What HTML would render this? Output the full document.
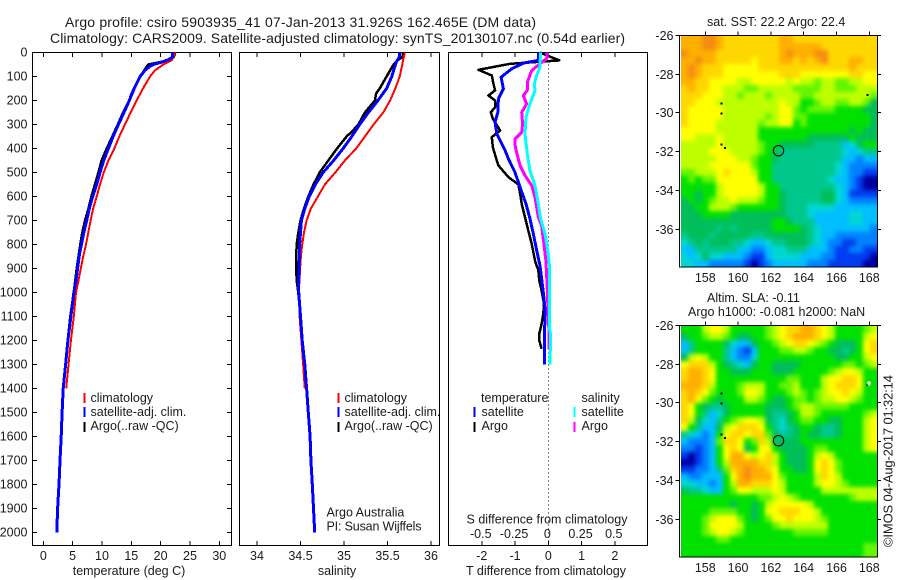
<!DOCTYPE html>
<html lang="en">
<head>
<meta charset="utf-8">
<title>Argo profile csiro 5903935_41</title>
<style>
html,body{margin:0;padding:0;background:#fff;}
svg{display:block;font-family:"Liberation Sans",sans-serif;fill:#000;}
text{font-size:12.5px;fill:#1a1a1a;}
.ttl{font-size:14px;}
</style>
</head>
<body>
<svg id="figure" xmlns="http://www.w3.org/2000/svg" width="900" height="580" viewBox="0 0 900 580">
  <defs>
    <filter id="mapSmooth" x="-5%" y="-5%" width="110%" height="110%" color-interpolation-filters="sRGB">
      <feGaussianBlur stdDeviation="2.2"/>
    </filter>
    <clipPath id="clipSst"><rect x="681" y="36" width="196" height="231"/></clipPath>
    <clipPath id="clipSla"><rect x="681" y="326" width="196" height="231"/></clipPath>
  </defs>
  <rect x="0" y="0" width="900" height="580" fill="#fff"/>
  <text class="ttl" x="65" y="27" textLength="471">Argo profile: csiro 5903935_41 07-Jan-2013 31.926S 162.465E (DM data)</text>
  <text class="ttl" x="50" y="43" textLength="575">Climatology: CARS2009. Satellite-adjusted climatology: synTS_20130107.nc (0.54d earlier)</text>
  <text x="129" y="575" text-anchor="middle">temperature (deg C)</text>
  <text x="337" y="575" text-anchor="middle">salinity</text>
  <text x="546" y="575" text-anchor="middle">T difference from climatology</text>
  <text x="547" y="523.5" text-anchor="middle">S difference from climatology</text>
  <text x="326.5" y="516.5">Argo Australia</text>
  <text x="326.5" y="530.5" textLength="95">PI: Susan Wijffels</text>
  <text x="707" y="26">sat. SST: 22.2  Argo: 22.4</text>
  <text x="707" y="302">Altim. SLA: -0.11</text>
  <text x="688" y="316">Argo h1000: -0.081 h2000: NaN</text>
  <text transform="translate(892.5,547) rotate(-90)" style="font-size:13px" textLength="172">©IMOS 04-Aug-2017 01:32:14</text>
  <g id="layer"></g>
</svg>
<script>
// ---------- axis tick labels ----------
const depthTicks = [0,100,200,300,400,500,600,700,800,900,1000,1100,1200,1300,1400,1500,1600,1700,1800,1900,2000];
const tempTicks = [0,5,10,15,20,25,30];
const salTicks = [34,34.5,35,35.5,36];
const tDiffTicks = [-2,-1,0,1,2];
const sDiffTicks = [-0.5,-0.25,0,0.25,0.5];
const latTicks = [-26,-28,-30,-32,-34,-36];
const lonTicks = [158,160,162,164,166,168];

// ---------- temperature profiles ----------
const tempClimDepth = [0,32,50,75,100,150,200,250,300,350,400,450,500,550,600,650,700,750,800,850,900,950,1000,1100,1200,1300,1400];
const tempClim = [22.56,21.9,20.45,19.0,18.2,17.0,15.9,14.9,13.9,12.95,12.1,11.1,10.3,9.66,9.1,8.5,8.07,7.67,7.27,6.8,6.4,6.0,5.57,5.2,4.7,4.3,3.9];
const tempSatDepth = [0,20,30,40,50,60,75,100,150,200,250,300,350,400,450,500,550,600,650,700,750,800,850,900,950,1000,1100,1200,1300,1400,1500,1600,1700,1800,1900,2000];
const tempSat = [22.05,22.0,21.3,20.2,18.75,18.05,17.3,16.5,15.5,14.66,13.75,12.8,11.9,11.1,10.3,9.66,9.1,8.4,7.84,7.4,6.9,6.5,6.1,5.85,5.57,5.2,4.7,4.2,3.8,3.4,3.2,3.05,2.85,2.67,2.44,2.3];
const tempArgoDepth = [0,10,20,30,40,50,60,75,100,150,180,200,250,300,350,400,450,500,550,600,650,700,750,800,850,900,950,1000,1100,1235];
const tempArgo = [22.4,22.4,22.2,21.6,19.9,17.9,17.6,17.2,16.5,15.45,14.9,14.66,13.6,12.7,11.76,10.8,9.94,9.4,8.8,8.2,7.7,7.1,6.65,6.3,6.0,5.7,5.45,5.2,4.6,4.0];

// ---------- salinity profiles ----------
const salClimDepth = [0,30,50,75,100,150,200,250,300,350,400,450,500,550,600,650,700,750,800,850,900,1000,1100,1200,1300,1400];
const salClim = [35.70,35.68,35.67,35.655,35.64,35.59,35.53,35.45,35.34,35.24,35.14,35.01,34.90,34.78,34.70,34.62,34.57,34.54,34.52,34.505,34.495,34.48,34.49,34.51,34.53,34.55];
const salSatDepth = [0,20,40,75,100,150,200,250,300,350,400,450,500,550,600,650,700,750,800,850,900,950,1000,1100,1200,1300,1400,1500,1600,1700,1800,1900,2000];
const salSat = [35.64,35.635,35.6,35.57,35.55,35.49,35.39,35.28,35.18,35.09,34.99,34.88,34.76,34.67,34.60,34.55,34.51,34.50,34.49,34.487,34.483,34.479,34.479,34.5,34.52,34.55,34.57,34.59,34.61,34.62,34.636,34.65,34.663];
const salArgoDepth = [0,20,30,50,75,100,150,170,200,250,300,330,350,400,450,500,550,600,650,700,750,800,850,900,950,1000,1100,1235];
const salArgo = [35.68,35.67,35.625,35.57,35.53,35.49,35.41,35.37,35.355,35.24,35.165,35.09,35.03,34.92,34.82,34.72,34.65,34.59,34.54,34.50,34.475,34.456,34.45,34.45,34.456,34.475,34.5,34.53];

// ---------- difference profiles ----------
const tDiffArgoDepth = [0,33,47,72,96,130,158,179,200,228,249,276,290,325,353,394,450,471,519,550,603,631,686,742,797,867,908,950,992,1047,1089,1131,1172,1200,1235];
const tDiffArgo = [-0.25,0.33,-1.15,-2.1,-1.7,-1.65,-1.6,-1.8,-1.6,-1.6,-1.73,-1.67,-1.6,-1.45,-1.7,-1.67,-1.55,-1.5,-1.2,-0.9,-0.83,-0.8,-0.7,-0.6,-0.5,-0.4,-0.3,-0.27,-0.2,-0.13,-0.15,-0.2,-0.27,-0.27,-0.2];
const tDiffSatDepth = [0,33,44,68,103,151,193,249,290,339,408,443,499,561,631,693,755,825,888,999,1068,1117,1172,1300];
const tDiffSat = [-0.3,-0.3,-0.75,-1.1,-1.42,-1.35,-1.5,-1.52,-1.6,-1.55,-1.3,-1.2,-1.0,-0.85,-0.67,-0.55,-0.45,-0.35,-0.25,-0.15,-0.1,-0.1,-0.12,-0.12];
const sDiffArgoDepth = [0,26,36,75,124,158,179,214,249,297,332,360,394,471,512,554,603,686,721,797,867,978,1103,1165,1235];
const sDiffArgo = [-0.005,-0.013,-0.038,-0.125,-0.158,-0.158,-0.188,-0.163,-0.2,-0.193,-0.2,-0.25,-0.248,-0.213,-0.175,-0.125,-0.1,-0.075,-0.05,-0.033,-0.018,-0.008,0,0.005,0.005];
const sDiffSatDepth = [0,61,96,130,158,214,269,339,422,492,554,631,693,755,839,888,1151,1172,1300];
const sDiffSat = [-0.058,-0.063,-0.088,-0.105,-0.1,-0.138,-0.168,-0.175,-0.158,-0.138,-0.1,-0.075,-0.058,-0.025,0,0.008,0.008,0.018,0.012];

// ---------- map grids: colour-scale level per cell, north row first, west column first ----------
const sstGrid = [
[12,12,12,13,13,12,11,11,11,11,11,11,11,11,12,12,11,11,11,11,11,11,11,11,11,11,11,11],
[12,12,12,13,13,12,11,11,11,11,11,11,11,11,12,12,12,12,12,12,11,11,11,11,11,11,11,11],
[13,12,12,12,12,11,11,11,11,11,11,11,11,11,12,13,12,12,12,13,13,11,11,11,11,11,11,11],
[12,12,13,12,12,11,11,11,11,11,10,11,11,11,12,12,11,12,11,12,13,11,11,11,12,12,11,11],
[12,13,12,11,11,11,10,10,10,10,10,11,11,11,11,11,11,11,11,11,11,11,11,11,12,11,11,11],
[12,13,12,11,11,11,10,10,10,10,10,10,10,10,11,11,11,10,10,10,10,10,10,10,11,11,10,10],
[12,12,11,11,10,10,10,10,9,9,10,10,10,10,10,9,10,9,9,8,9,9,8,8,9,9,10,10],
[11,12,11,11,10,10,9,9,9,8,8,9,9,9,9,9,8,8,8,8,9,9,8,8,8,9,9,9],
[11,11,11,10,10,10,9,9,8,9,9,9,8,9,9,9,9,8,8,9,9,9,9,9,9,9,9,8],
[11,11,10,10,10,9,9,9,9,9,9,9,9,9,10,9,9,7,7,8,9,9,8,8,9,9,8,6],
[11,10,10,10,10,10,9,9,9,9,9,9,9,9,10,10,8,7,8,8,8,8,7,7,7,7,6,6],
[11,10,10,10,10,10,9,9,9,9,9,9,8,9,10,10,8,8,7,7,7,7,7,7,7,7,7,6],
[11,10,10,10,10,9,9,9,9,9,9,8,9,9,10,10,7,8,7,7,7,7,7,7,7,7,7,6],
[10,10,10,10,10,9,9,9,9,9,9,7,7,7,7,7,7,7,7,7,7,7,7,7,6,7,6,6],
[10,10,9,9,9,10,9,9,9,9,9,7,7,7,7,7,7,7,6,6,6,6,6,6,7,6,6,6],
[9,9,9,9,9,10,9,9,9,9,9,8,7,7,6,6,6,6,6,5,5,5,5,3,4,6,7,7],
[9,9,9,9,10,10,10,9,9,9,9,8,7,6,5,5,5,5,5,5,5,5,5,4,3,4,5,5],
[9,9,9,9,9,10,10,10,9,9,8,7,7,6,5,5,5,5,5,5,5,5,5,3,3,2,3,3],
[9,9,9,9,10,10,10,10,10,10,8,7,7,5,5,5,5,5,5,5,5,5,4,3,2,2,2,2],
[8,8,9,9,9,10,11,10,10,10,9,7,7,5,5,5,5,5,5,5,5,5,4,3,2,2,1,1],
[7,8,7,8,8,10,10,10,10,10,10,7,7,5,5,5,5,5,5,5,5,4,3,3,2,1,0,0],
[7,7,7,7,7,9,10,10,10,10,10,9,7,7,5,5,5,5,5,5,5,5,4,3,2,1,0,0],
[7,7,6,7,7,9,10,10,10,10,10,9,7,7,6,5,5,5,5,5,6,6,4,3,1,1,1,1],
[6,7,6,7,8,9,9,10,9,9,9,8,7,7,6,5,5,5,5,5,6,6,4,3,2,2,2,2],
[6,6,7,7,9,9,9,8,7,7,7,7,7,7,6,5,5,5,4,4,4,4,3,3,3,3,3,3],
[6,6,6,7,7,7,7,6,6,6,6,6,6,6,6,5,5,5,4,3,3,3,3,3,4,4,3,3],
[6,6,6,6,6,6,6,6,6,6,6,6,6,7,7,6,5,5,5,3,3,3,3,3,4,4,3,3],
[6,6,6,6,6,5,6,5,6,6,6,6,6,7,7,7,7,6,5,4,3,3,3,3,3,3,3,2],
[5,6,6,6,5,6,6,6,6,6,5,5,6,6,6,6,6,6,5,4,3,3,2,2,2,2,2,2],
[4,5,6,5,6,6,6,5,5,4,3,3,4,5,5,6,6,6,5,4,3,2,2,1,1,2,2,2],
[3,3,5,5,5,5,5,5,3,3,2,2,3,4,4,5,5,5,3,3,3,2,1,1,2,2,1,1],
[4,3,4,6,4,4,3,3,3,2,1,1,3,4,4,4,4,3,3,3,2,2,1,1,1,1,1,0],
[4,4,3,3,2,2,2,2,2,1,0,1,2,3,3,3,3,3,2,2,2,1,1,1,1,1,0,0]
];
const slaGrid = [
[7,7,7,9,10,10,9,7,7,7,7,7,8,9,10,11,11,12,12,11,10,9,7,7,7,7,8,9],
[6,7,7,8,9,9,8,7,6,6,7,7,8,9,10,11,12,12,12,11,10,9,7,7,7,7,9,10],
[3,5,7,7,7,7,6,4,3,3,6,7,7,8,9,10,11,11,10,9,8,7,6,6,6,7,10,11],
[3,5,7,7,7,7,5,3,2,1,3,7,7,7,8,8,9,9,8,7,7,6,6,5,6,7,10,11],
[6,9,10,9,7,7,5,3,2,2,4,7,7,7,7,7,7,7,7,7,7,7,6,6,7,7,9,10],
[10,11,11,11,9,7,6,5,4,3,6,7,7,6,6,6,6,7,7,7,7,7,7,8,8,7,8,9],
[11,12,12,11,10,7,7,6,6,6,7,7,7,6,6,6,7,7,7,7,7,8,9,10,10,9,7,7],
[11,12,12,11,10,7,7,7,7,7,7,7,7,7,7,8,8,7,7,7,9,10,10,11,11,10,7,7],
[12,12,12,11,9,7,7,7,8,9,9,9,7,7,8,8,9,7,7,7,9,10,11,11,11,10,7,7],
[11,12,11,10,8,7,7,7,8,10,10,9,7,7,7,8,9,8,7,8,9,10,10,11,10,9,7,7],
[11,12,10,8,7,6,7,7,7,9,9,8,7,6,6,7,8,8,7,8,9,9,10,10,9,8,7,7],
[11,10,7,6,5,5,6,7,7,7,7,7,6,6,6,7,8,9,9,8,8,8,8,8,7,7,7,7],
[11,10,7,5,3,4,6,7,7,7,7,7,6,5,5,6,7,9,9,8,7,7,7,7,7,7,8,9],
[11,9,6,4,3,5,7,8,9,10,10,9,6,5,4,6,7,8,8,7,7,6,6,7,7,7,9,10],
[10,7,5,3,3,6,9,10,11,11,11,10,7,5,4,5,6,7,7,6,5,5,6,7,7,7,9,10],
[5,4,3,2,3,7,10,11,11,10,11,11,8,6,5,5,6,7,6,6,5,5,6,7,7,7,9,10],
[3,2,2,2,3,8,11,11,10,7,8,11,9,6,6,6,6,7,7,7,7,7,7,7,7,7,9,10],
[2,2,1,2,3,7,10,11,10,6,7,10,10,7,6,6,6,6,7,8,8,7,7,7,7,7,9,10],
[1,0,1,2,3,7,10,12,12,10,9,10,11,9,7,6,6,6,7,9,10,9,7,7,7,7,7,7],
[0,0,1,2,3,7,9,12,12,12,12,11,11,9,7,6,6,6,7,10,11,10,8,7,7,7,7,7],
[1,1,2,2,3,5,8,11,12,13,12,12,11,10,7,7,6,6,7,10,11,10,8,7,7,7,7,7],
[3,2,2,3,3,3,7,10,12,13,12,12,12,10,8,7,7,7,7,9,11,10,9,7,7,7,7,7],
[4,4,3,3,2,3,7,9,12,12,11,11,11,10,9,7,7,7,7,9,10,10,9,8,7,7,7,7],
[6,5,5,4,3,3,7,8,10,10,9,9,9,10,9,7,7,7,7,7,9,9,9,9,9,9,9,9],
[7,7,7,7,7,7,7,7,7,7,7,8,8,9,10,9,8,7,7,7,7,7,7,7,8,9,9,9],
[7,7,7,7,7,7,7,6,7,7,6,7,9,10,10,10,10,10,9,7,7,7,7,7,7,7,7,7],
[7,7,7,7,8,8,8,8,7,7,6,7,10,10,11,11,11,10,10,9,7,7,7,7,7,7,7,7],
[7,7,7,8,9,10,10,10,8,7,6,7,8,10,10,11,10,10,10,9,8,7,7,7,7,7,7,7],
[7,7,7,8,10,10,10,10,9,7,7,7,7,8,9,9,9,9,9,9,9,7,7,7,7,7,7,7],
[7,7,7,8,9,10,10,9,8,7,7,7,7,7,7,7,8,8,8,8,8,7,7,7,7,7,7,7],
[7,7,7,7,7,8,8,7,7,7,7,7,7,7,7,7,7,7,7,7,7,7,7,7,7,7,7,7],
[7,7,7,7,7,7,7,7,7,7,7,7,7,7,7,7,7,7,7,7,7,7,7,7,7,7,8,8],
[7,7,7,7,7,7,7,7,7,7,7,7,7,7,7,7,7,7,7,7,7,7,7,7,7,7,8,8]
];
const profileLon = [162.465];
const profileLat = [-31.926];
const speckLon = [159,159,159,159.2,167.9];
const speckLat = [-29.5,-30,-31.6,-31.8,-29.05];

// ---------- axis functions ----------
const NS = 'http://www.w3.org/2000/svg';
const layer = document.getElementById('layer');
const PLOT_TOP = 52.5, PLOT_BOTTOM = 545.5;
function yDepth(d){ return 52.5 + 0.24 * d; }
function xTemp(v){ return 43.3 + 5.867 * v; }
function xSal(v){ return 257 + 87 * (v - 34); }
function xTDiff(v){ return 548.3 + 33.25 * v; }
function xSDiff(v){ return 548.3 + 133 * v; }
function xLon(v){ return 705.3 + 16.4 * (v - 158); }
function yLat(mapTop, v){ return mapTop + 19.35 * (-26 - v); }

function node(tag, attrs){
  const el = document.createElementNS(NS, tag);
  for (const k in attrs) el.setAttribute(k, attrs[k]);
  layer.appendChild(el);
  return el;
}
function box(x0, x1, y0, y1, name){
  const el = node('rect', {x:x0, y:y0, width:x1-x0, height:y1-y0, fill:'none', stroke:'#000', 'stroke-width':1, 'shape-rendering':'crispEdges'});
  
  
}
function tick(x1, y1, x2, y2, name){
  const el = node('line', {x1:x1, y1:y1, x2:x2, y2:y2, stroke:'#000', 'stroke-width':1, 'shape-rendering':'crispEdges'});
  
  
}
function label(x, y, str, anchor, name){
  const el = node('text', {x:x, y:y, 'text-anchor':anchor});
  el.textContent = str;
  
  
}
function profile(depths, values, xFn, color, width, name){
  const pts = depths.map((d, i) => xFn(values[i]).toFixed(1) + ',' + yDepth(d).toFixed(1)).join(' ');
  const el = node('polyline', {points:pts, fill:'none', stroke:color, 'stroke-width':width, 'stroke-linejoin':'round', 'shape-rendering':'crispEdges'});
  
  
}
function swatch(x, y, color, name){
  const el = node('rect', {x:x, y:y, width:2, height:10, fill:color, 'shape-rendering':'crispEdges'});
  
  
}
function levelColor(level){
  const colors = ['#0000a0','#003cf0','#0082ff','#00beff','#00d7d2','#00c88c','#00be5a','#00e100','#64f500','#beff00','#ffff00','#ffd700','#ffaf00','#f58c14'];
  return colors[level];
}

// ---------- profile panels ----------
box(32.5, 231.5, PLOT_TOP, PLOT_BOTTOM, 'temperature-panel-frame');
box(239.5, 439.5, PLOT_TOP, PLOT_BOTTOM, 'salinity-panel-frame');
box(448.5, 647.5, PLOT_TOP, PLOT_BOTTOM, 'difference-panel-frame');

depthTicks.forEach(d => {
  tick(32.5, yDepth(d), 37, yDepth(d), 'depth-tick-left');
  tick(227, yDepth(d), 231.5, yDepth(d), 'depth-tick-right');
  label(27.5, yDepth(d) + 4, String(d), 'end', 'depth-tick-label');
});
tempTicks.forEach(v => {
  tick(xTemp(v), PLOT_TOP, xTemp(v), 57, 'temperature-tick-top');
  tick(xTemp(v), 541, xTemp(v), PLOT_BOTTOM, 'temperature-tick-bottom');
  label(xTemp(v), 560, String(v), 'middle', 'temperature-tick-label');
});
salTicks.forEach(v => {
  tick(xSal(v), PLOT_TOP, xSal(v), 57, 'salinity-tick-top');
  tick(xSal(v), 541, xSal(v), PLOT_BOTTOM, 'salinity-tick-bottom');
  label(xSal(v), 560, String(v), 'middle', 'salinity-tick-label');
});
tDiffTicks.forEach(v => {
  tick(xTDiff(v), 541, xTDiff(v), PLOT_BOTTOM, 't-difference-tick');
  label(xTDiff(v), 560, String(v), 'middle', 't-difference-tick-label');
});
sDiffTicks.forEach(v => {
  tick(xSDiff(v), PLOT_TOP, xSDiff(v), 57, 's-difference-tick');
  label(xSDiff(v) - 1, 538, String(v), 'middle', 's-difference-tick-label');
});
const zeroLine = node('line', {x1:xTDiff(0), y1:PLOT_TOP, x2:xTDiff(0), y2:PLOT_BOTTOM, stroke:'#000', 'stroke-width':1, 'stroke-dasharray':'1 3', 'shape-rendering':'crispEdges'});



profile(tempArgoDepth, tempArgo, xTemp, '#000', 2.5, 'temperature-argo-line');
profile(tempClimDepth, tempClim, xTemp, '#ff0000', 2, 'temperature-climatology-line');
profile(tempSatDepth, tempSat, xTemp, '#0000ff', 3, 'temperature-satellite-line');
profile(salArgoDepth, salArgo, xSal, '#000', 2.5, 'salinity-argo-line');
profile(salClimDepth, salClim, xSal, '#ff0000', 2, 'salinity-climatology-line');
profile(salSatDepth, salSat, xSal, '#0000ff', 3, 'salinity-satellite-line');
profile(tDiffArgoDepth, tDiffArgo, xTDiff, '#000', 2.5, 't-difference-argo-line');
profile(tDiffSatDepth, tDiffSat, xTDiff, '#0000ff', 3, 't-difference-satellite-line');
profile(sDiffArgoDepth, sDiffArgo, xSDiff, '#ff00ff', 3, 's-difference-argo-line');
profile(sDiffSatDepth, sDiffSat, xSDiff, '#00ffff', 3, 's-difference-satellite-line');

// ---------- legends ----------
swatch(83.5, 393, '#ff0000', 'legend-swatch-climatology');
swatch(83.5, 407, '#0000ff', 'legend-swatch-satellite');
swatch(83.5, 422, '#000', 'legend-swatch-argo');
label(90.5, 402, 'climatology', 'start', 'legend-label-climatology');
label(90.5, 416, 'satellite-adj. clim.', 'start', 'legend-label-satellite');
label(90.5, 430, 'Argo(..raw -QC)', 'start', 'legend-label-argo');
swatch(337.5, 393, '#ff0000', 'legend-swatch-climatology');
swatch(337.5, 407, '#0000ff', 'legend-swatch-satellite');
swatch(337.5, 422, '#000', 'legend-swatch-argo');
label(344.5, 402, 'climatology', 'start', 'legend-label-climatology');
label(344.5, 416, 'satellite-adj. clim.', 'start', 'legend-label-satellite');
label(344.5, 430, 'Argo(..raw -QC)', 'start', 'legend-label-argo');
label(481, 402, 'temperature', 'start', 'legend-heading-temperature');
label(581.5, 402, 'salinity', 'start', 'legend-heading-salinity');
swatch(473.5, 407, '#0000ff', 'legend-swatch-t-satellite');
swatch(473.5, 422, '#000', 'legend-swatch-t-argo');
swatch(573.5, 407, '#00ffff', 'legend-swatch-s-satellite');
swatch(573.5, 422, '#ff00ff', 'legend-swatch-s-argo');
label(481.5, 416, 'satellite', 'start', 'legend-label-t-satellite');
label(481.5, 430, 'Argo', 'start', 'legend-label-t-argo');
label(581.5, 416, 'satellite', 'start', 'legend-label-s-satellite');
label(581.5, 430, 'Argo', 'start', 'legend-label-s-argo');

// ---------- maps ----------
const CELL = 7, MAP_LEFT = 681, PAD = 10;
function drawMap(grid, mapTop, clipId, name){
  const clip = document.createElementNS(NS, 'g');
  clip.setAttribute('clip-path', 'url(#' + clipId + ')');
  
  
  layer.appendChild(clip);
  const smooth = document.createElementNS(NS, 'g');
  smooth.setAttribute('filter', 'url(#mapSmooth)');
  
  
  clip.appendChild(smooth);
  const lastRow = grid.length - 1;
  grid.forEach((row, r) => {
    const lastCol = row.length - 1;
    row.forEach((level, c) => {
      // edge cells overhang the clip so the smoothing does not fade at the border
      const x0 = MAP_LEFT + c * CELL - (c === 0 ? PAD : 0);
      const x1 = MAP_LEFT + (c + 1) * CELL + (c === lastCol ? PAD : 0);
      const y0 = mapTop + r * CELL - (r === 0 ? PAD : 0);
      const y1 = mapTop + (r + 1) * CELL + (r === lastRow ? PAD : 0);
      const cell = node('rect', {x:x0, y:y0, width:x1 - x0, height:y1 - y0, fill:levelColor(level), 'shape-rendering':'crispEdges'});
      
      
      smooth.appendChild(cell);
    });
  });
  const f = node('rect', {x:679.5, y:mapTop - 0.5, width:198, height:231.5, fill:'none', stroke:'#000', 'stroke-width':1, 'shape-rendering':'crispEdges'});
  
  
  latTicks.forEach(v => {
    const y = Math.round(yLat(mapTop, v)) - 0.5;
    tick(675.5, y, 679.5, y, 'map-latitude-tick-left');
    tick(877.5, y, 881, y, 'map-latitude-tick-right');
    label(673.5, y + 4.5, String(v), 'end', 'map-latitude-label');
  });
  lonTicks.forEach(v => {
    tick(xLon(v), mapTop - 4.5, xLon(v), mapTop - 0.5, 'map-longitude-tick');
    label(xLon(v), mapTop + 246, String(v), 'middle', 'map-longitude-label');
  });
  speckLon.forEach((lon, i) => {
    const s = node('rect', {x:xLon(lon) - 1, y:yLat(mapTop, speckLat[i]) - 1, width:2, height:2, fill:'#000', 'shape-rendering':'crispEdges'});
    
    
  });
  const circ = node('circle', {cx:xLon(profileLon[0]), cy:yLat(mapTop, profileLat[0]), r:5.2, fill:'none', stroke:'#000', 'stroke-width':1});
  
  
}
drawMap(sstGrid, 36, 'clipSst', 'sst');
drawMap(slaGrid, 326, 'clipSla', 'sla');
const whiteDot = node('rect', {x:867.5, y:381.5, width:3, height:4, fill:'#fff', 'shape-rendering':'crispEdges'});


</script>
</body>
</html>
